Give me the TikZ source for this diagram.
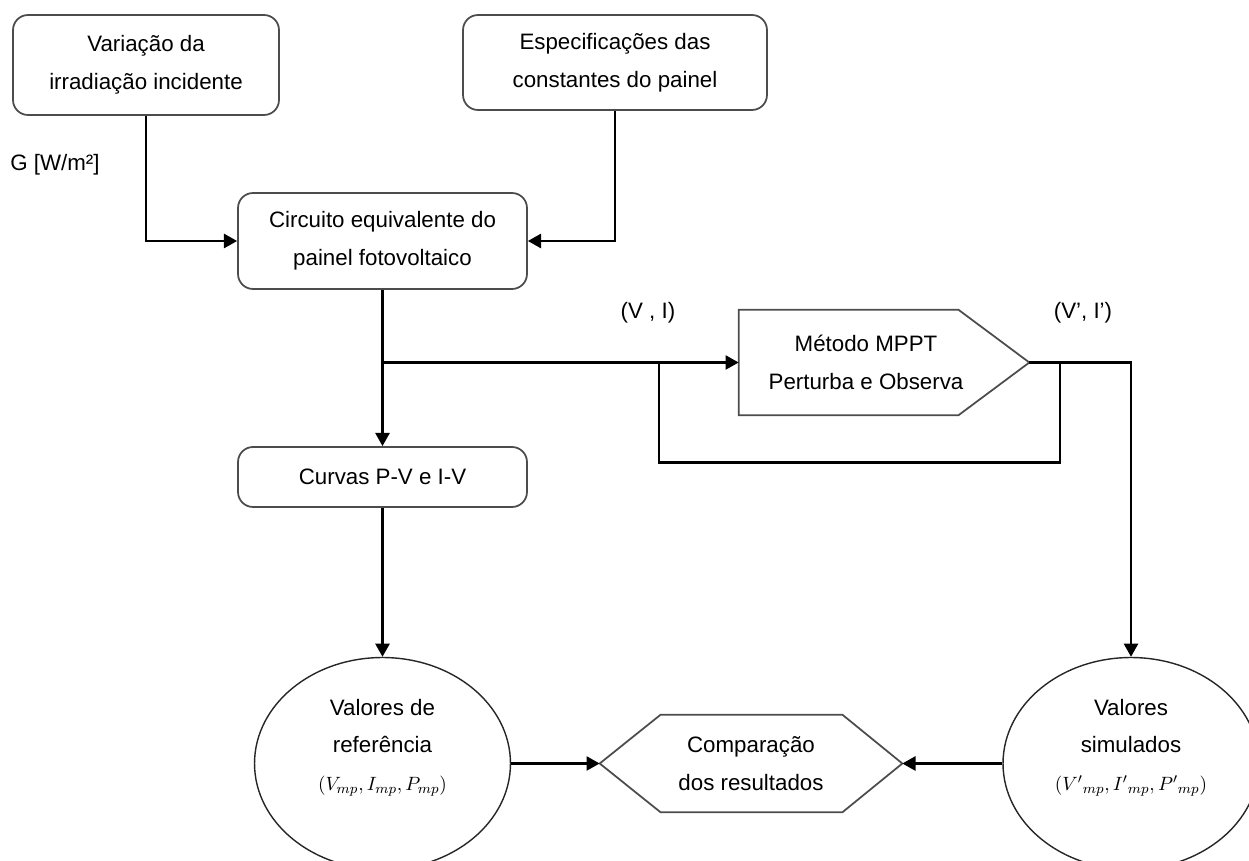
\documentclass[tikz,border=0pt]{standalone}
\usepackage{fontspec}
\setmainfont{Liberation Sans}
\usetikzlibrary{arrows.meta,shapes.geometric}

\tikzset{
  caixa/.style={draw=black!70, line width=1pt, rounded corners=0.3cm, align=center, inner sep=0pt},
  contorno/.style={draw=black!70, line width=1pt},
  elipse/.style={draw=black!85, line width=0.8pt, ellipse, minimum width=5.12cm, minimum height=4.24cm, inner sep=0pt, align=center},
  seta/.style={line width=1.4pt, -{Triangle[length=7.5pt,width=8pt]}},
  linha/.style={line width=1.4pt},
  rotulo/.style={inner sep=0pt},
}

\begin{document}
\begin{tikzpicture}[x=0.02cm, y=-0.02cm, font=\fontsize{12.7}{21.5}\selectfont]
\useasboundingbox (0,0) rectangle (1249,861);
\clip (0,0) rectangle (1249,861);

% entradas
\node[caixa, minimum width=5.32cm, minimum height=2cm] (varia) at (146,65) {Variação da\\irradiação incidente};
\node[caixa, minimum width=6.08cm, minimum height=1.9cm] (espec) at (615,62.5) {Especificações das\\constantes do painel};
\node[rotulo, anchor=west] (irrad) at (10,165) {G [W/m²]};

% modelo do painel
\node[caixa, minimum width=5.78cm, minimum height=1.92cm] (circ) at (382.5,241) {Circuito equivalente do\\painel fotovoltaico};
\node[caixa, minimum width=5.78cm, minimum height=1.2cm] (curvas) at (382.5,477) {Curvas P-V e I-V};

% bloco MPPT (pentagono)
\node[minimum width=5.8cm, minimum height=2.1cm, inner sep=0pt] (mppt) at (884,362.5) {};
\draw[contorno] (mppt.north west) -- ([xshift=-1.42cm]mppt.north east) -- (mppt.east)
  -- ([xshift=-1.42cm]mppt.south east) -- (mppt.south west) -- cycle;
\node[align=center, inner sep=0pt] (mppt-texto) at (866,362.5) {Método MPPT\\Perturba e Observa};
\node[rotulo] (vi) at (648,313) {(V , I)};
\node[rotulo] (vi2) at (1083,313) {(V', I')};

% resultados
\node[elipse] (refer) at (382.5,763.5) {Valores de\\referência\\\fontsize{11}{21.5}\selectfont$(V_{mp},I_{mp},P_{mp})$\rule[-0.75cm]{0pt}{0pt}};
\node[elipse] (simul) at (1131,763.5) {Valores\\simulados\\\fontsize{11}{21.5}\selectfont$({V'}_{mp},{I'}_{mp},{P'}_{mp})$\rule[-0.75cm]{0pt}{0pt}};
\node[minimum width=6.04cm, minimum height=1.94cm, inner sep=0pt, align=center] (comp) at (751,763.5) {Comparação\\dos resultados};
\draw[contorno] (comp.west) -- ([xshift=1.22cm]comp.north west) -- ([xshift=-1.2cm]comp.north east)
  -- (comp.east) -- ([xshift=-1.2cm]comp.south east) -- ([xshift=1.22cm]comp.south west) -- cycle;

% ligacoes
\coordinate (ramo) at (circ.south |- mppt.west);
\coordinate (laco1) at (659,362.5);
\coordinate (laco2) at (1060,362.5);
\draw[seta] (varia.south) |- (circ.west);
\draw[seta] (espec.south) |- (circ.east);
\draw[seta] (circ.south) -- (curvas.north);
\draw[seta] (ramo) -- (mppt.west);
\draw[linha] (laco1) -- ++(0,100) -| (laco2);
\draw[seta] (mppt.east) -| (simul.north);
\draw[seta] (curvas.south) -- (refer.north);
\draw[seta] (refer.east) -- (comp.west);
\draw[seta] (simul.west) -- (comp.east);
\end{tikzpicture}
\end{document}
